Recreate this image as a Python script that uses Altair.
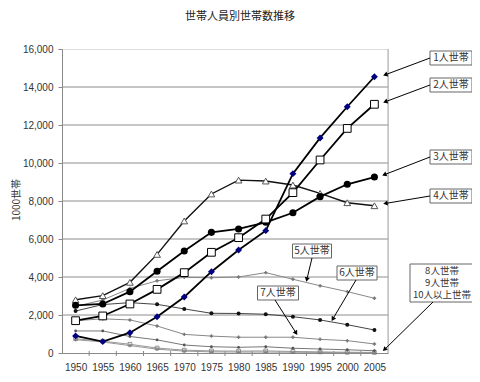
import math
import altair as alt
import pandas as pd

# ---------------- data (1000 households) ----------------
years = [1950, 1955, 1960, 1965, 1970, 1975, 1980, 1985, 1990, 1995, 2000, 2005]
p1 = [900, 600, 1070, 1910, 2950, 4280, 5420, 6440, 9440, 11320, 12960, 14540]
p2 = [1700, 1950, 2580, 3350, 4230, 5300, 6070, 7050, 8440, 10160, 11820, 13090]
p3 = [2510, 2580, 3230, 4300, 5370, 6350, 6530, 6880, 7380, 8230, 8880, 9260]
p4 = [2800, 3020, 3720, 5190, 6950, 8370, 9100, 9050, 8840, 8400, 7910, 7750]
p5 = [2450, 2790, 3400, 3800, 3980, 3960, 4000, 4230, 3880, 3540, 3230, 2880]
p6 = [2210, 2550, 2650, 2560, 2320, 2090, 2080, 2040, 1910, 1740, 1490, 1210]
p7 = [1700, 1800, 1740, 1420, 980, 890, 830, 830, 830, 720, 650, 475]
p8 = [1160, 1160, 870, 690, 420, 330, 300, 330, 250, 210, 170, 120]
p9 = [750, 620, 460, 260, 150, 110, 100, 110, 80, 60, 40, 30]
p10 = [700, 580, 390, 200, 100, 60, 50, 50, 40, 30, 20, 15]

y_ticks = [0, 2000, 4000, 6000, 8000, 10000, 12000, 14000, 16000]
grid_vals = [2000, 4000, 6000, 8000, 10000, 12000, 14000]

title_text = "世帯人員別世帯数推移"
y_title = "1000世帯"

W, H = 326, 304
JP = "Noto Sans CJK JP"
NUM = "Liberation Sans"

xscale = alt.Scale(domain=[1947.5, 2007.5], nice=False, zero=False)
yscale = alt.Scale(domain=[0, 16000], nice=False)

xaxis = alt.Axis(values=years, format="d", grid=False, ticks=False, title=None,
                 labelFont=NUM, labelFontSize=10, labelColor="#333",
                 labelPadding=9, domainColor="#888", labelFlush=False)
yaxis = alt.Axis(values=y_ticks, labelExpr="format(datum.value, ',')", grid=False, title=None,
                 labelFont=NUM, labelFontSize=10, labelColor="#333",
                 tickColor="#888", tickSize=4, labelPadding=5, domainColor="#888")

layers = []

# gridlines
grid = alt.Chart(pd.DataFrame({"g": grid_vals})).mark_rule(color="#8c8c8c", strokeWidth=1).encode(
    y=alt.Y("g:Q", scale=yscale, axis=yaxis), x=alt.value(0), x2=alt.value(W))
layers.append(grid)

# right border
layers.append(alt.Chart(pd.DataFrame({"a": [0]})).mark_rule(color="#aaa").encode(
    x=alt.value(W), y=alt.value(0), y2=alt.value(H)))

# x ticks between categories
bounds = [(years[i] + years[i + 1]) / 2 for i in range(len(years) - 1)]
layers.append(alt.Chart(pd.DataFrame({"b": bounds})).mark_rule(color="#888").encode(
    x=alt.X("b:Q", scale=xscale, axis=xaxis), y=alt.value(H - 2), y2=alt.value(H + 3)))

series = [
    (p10, dict(color="#999", strokeWidth=1), dict(shape="cross", size=10, filled=True, color="#888")),
    (p9, dict(color="#999", strokeWidth=1), dict(shape="square", size=14, filled=False, color="#777", strokeWidth=0.8)),
    (p8, dict(color="#777", strokeWidth=1), dict(shape="circle", size=8, filled=True, color="#555")),
    (p7, dict(color="#888", strokeWidth=1), dict(shape="cross", size=12, filled=True, color="#777")),
    (p6, dict(color="#444", strokeWidth=1), dict(shape="circle", size=16, filled=True, color="#111")),
    (p5, dict(color="#888", strokeWidth=1), dict(shape="cross", size=12, filled=True, color="#777")),
    (p4, dict(color="#111", strokeWidth=1.4), dict(shape="triangle-up", size=45, filled=True, fill="white", stroke="#555", strokeWidth=1)),
    (p3, dict(color="#000", strokeWidth=1.8), dict(shape="circle", size=50, filled=True, color="#000")),
    (p2, dict(color="#000", strokeWidth=1.8), dict(shape="square", size=60, filled=True, fill="white", stroke="#000", strokeWidth=1)),
    (p1, dict(color="#000", strokeWidth=1.8), dict(shape="diamond", size=48, filled=True, color="#000080")),
]
for vals, lstyle, pstyle in series:
    df = pd.DataFrame({"year": years, "v": vals})
    base = alt.Chart(df).encode(x=alt.X("year:Q", scale=xscale, axis=xaxis),
                                y=alt.Y("v:Q", scale=yscale, axis=yaxis))
    layers.append(base.mark_line(**lstyle))
    layers.append(base.mark_point(opacity=1, **pstyle))

# ---------------- annotations (pixel positions, plot-relative) ----------------
OX, OY = 62, 49
boxes = [
    ("1人世帯", 451, 58, 42, 14, 10),
    ("2人世帯", 451, 85, 42, 14, 10),
    ("3人世帯", 451, 157, 42, 14, 10),
    ("4人世帯", 451, 196, 42, 14, 10),
    ("5人世帯", 312, 251, 39, 14, 10),
    ("6人世帯", 357, 273, 40, 14, 10),
    ("7人世帯", 278, 293, 41, 14, 10),
    ("8人世帯\n9人世帯\n10人以上世帯", 442, 283, 64, 38, 9.5),
]
arrows = [
    (430, 58, 382, 76),
    (430, 85, 382, 103),
    (430, 157, 381, 176),
    (430, 196, 382, 204),
    (312, 258, 306, 283),
    (356, 280, 331, 322),
    (275, 300, 298, 336),
    (433, 302, 382, 352),
]

NOAX = dict(scale=None, axis=None)
bx = pd.DataFrame([{"x1": cx - w / 2 - OX, "x2": cx + w / 2 - OX,
                    "y1": cy - h / 2 - OY, "y2": cy + h / 2 - OY} for _, cx, cy, w, h, _ in boxes])
layers.append(alt.Chart(bx).mark_rect(fill="white", stroke="#666", strokeWidth=1).encode(
    x=alt.X("x1:Q", **NOAX), x2="x2:Q", y=alt.Y("y1:Q", **NOAX), y2="y2:Q"))

LH = 12
for txt, cx, cy, w, h, fs in boxes:
    lines = txt.split("\n")
    layers.append(alt.Chart(pd.DataFrame({"t": [lines]})).mark_text(
        font=JP, fontSize=fs, color="#333", align="center", baseline="middle", lineHeight=LH).encode(
        x=alt.value(cx - OX), y=alt.value(cy - OY - (len(lines) - 1) * LH / 2), text="t"))

ar = []
heads = []
for x1, y1, x2, y2 in arrows:
    dx, dy = x2 - x1, y2 - y1
    L = math.hypot(dx, dy)
    ux, uy = dx / L, dy / L
    ar.append({"x1": x1 - OX, "y1": y1 - OY, "x2": x2 - OX - ux * 3, "y2": y2 - OY - uy * 3})
    heads.append({"x": x2 - OX - ux * 3.5, "y": y2 - OY - uy * 3.5,
                  "ang": math.degrees(math.atan2(dx, -dy)) % 360})
layers.append(alt.Chart(pd.DataFrame(ar)).mark_rule(color="#000", strokeWidth=1).encode(
    x=alt.X("x1:Q", **NOAX), y=alt.Y("y1:Q", **NOAX), x2="x2:Q", y2="y2:Q"))
layers.append(alt.Chart(pd.DataFrame(heads)).mark_point(
    shape="triangle-up", filled=True, color="#000", size=26, opacity=1).encode(
    x=alt.X("x:Q", **NOAX), y=alt.Y("y:Q", **NOAX), angle=alt.Angle("ang:Q", scale=None)))

# title and y-axis title
layers.append(alt.Chart(pd.DataFrame({"t": [title_text]})).mark_text(
    font=JP, fontSize=11, color="#222", align="center", baseline="middle").encode(
    x=alt.value(240 - OX), y=alt.value(17 - OY), text="t"))
layers.append(alt.Chart(pd.DataFrame({"t": [y_title]})).mark_text(
    font=JP, fontSize=10, color="#333", align="center", baseline="middle", angle=270).encode(
    x=alt.value(17 - OX), y=alt.value(200 - OY), text="t"))

chart = alt.layer(*layers).properties(
    width=W, height=H, autosize="none",
    padding={"left": OX - 8, "top": OY - 8, "right": 464 - (OX - 8) - W, "bottom": 366 - (OY - 8) - H},
).configure_view(stroke=None).configure(background="white")

chart.save("out.html", embed_options={"renderer": "svg", "actions": False})
